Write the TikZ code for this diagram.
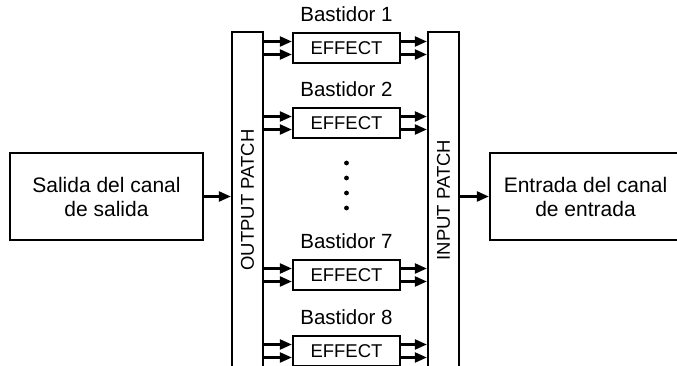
\documentclass[tikz,border=0pt]{standalone}
\usepackage{fontspec}
\setmainfont{Liberation Sans}
\usetikzlibrary{arrows.meta,calc,positioning}
\begin{document}
\begin{tikzpicture}[x=1pt, y=-1pt, line width=2.3pt, line join=miter, >={Triangle[length=12pt,width=10pt]},
	chanbox/.style={draw, minimum height=87pt, align=center, inner sep=0pt, font=\fontsize{21}{24}\selectfont},
	patchbox/.style={draw, minimum width=31pt, minimum height=336pt, inner sep=0pt, font=\fontsize{18.5}{20}\selectfont},
	fxbox/.style={draw, minimum width=107pt, minimum height=30pt, inner sep=0pt, font=\fontsize{18.5}{20}\selectfont},
	racklabel/.style={anchor=base, inner sep=0pt, font=\fontsize{20.5}{22}\selectfont}]
	\useasboundingbox (0,0) rectangle (677,366);
	\def\FxX{346.5}   % centre of the effect column
	\def\Dy{6.5}      % offset of the two signal lines
	\begin{scope}
		\clip (0,0) rectangle (677,366);
		% channel boxes and patches
		\node[chanbox, minimum width=193pt] (salida) at (106.5,196.5) {Salida del canal\\de salida};
		\node[chanbox, minimum width=191pt] (entrada) at (585.5,196.5) {Entrada del canal\\de entrada};
		\node[patchbox] (opatch) at (247.5,200) {\rotatebox{90}{OUTPUT PATCH}};
		\node[patchbox] (ipatch) at (443.5,200) {\rotatebox{90}{INPUT PATCH}};
		\draw[->] (salida.east) -- (opatch.west |- salida.east);
		\draw[->] (ipatch.east |- entrada.west) -- (entrada.west);
		% racks
		\foreach \n/\y in {1/48, 2/123, 7/275, 8/351} {
			\node[fxbox] (fx\n) at (\FxX,\y) {EFFECT};
			\node[racklabel] (lab\n) at ($(fx\n.north)+(0,-10)$) {Bastidor \n};
			\coordinate (fx\n-ia) at ($(fx\n.west)+(0,-\Dy)$);
			\coordinate (fx\n-ib) at ($(fx\n.west)+(0,\Dy)$);
			\coordinate (fx\n-oa) at ($(fx\n.east)+(0,-\Dy)$);
			\coordinate (fx\n-ob) at ($(fx\n.east)+(0,\Dy)$);
			\draw[->] (opatch.east |- fx\n-ia) -- (fx\n-ia);
			\draw[->] (opatch.east |- fx\n-ib) -- (fx\n-ib);
			\draw[->] (fx\n-oa) -- (ipatch.west |- fx\n-oa);
			\draw[->] (fx\n-ob) -- (ipatch.west |- fx\n-ob);
		}
		% dots between rack 2 and rack 7
		\foreach \y in {163,178,193,208}
		\fill (\FxX,\y) circle (2.4pt);
	\end{scope}
\end{tikzpicture}
\end{document}
